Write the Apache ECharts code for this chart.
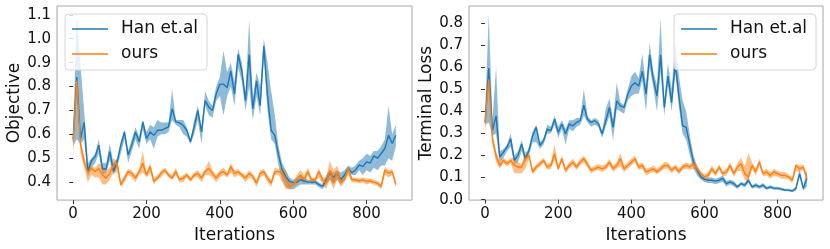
<!DOCTYPE html>
<html><head><meta charset="utf-8">
<script src="https://cdn.jsdelivr.net/npm/echarts@6/dist/echarts.min.js"></script>
<style>html,body{margin:0;padding:0;background:#fff}#c{width:830px;height:249px}</style>
</head><body><div id="c"></div>
<script>
var iterations = [0,10,20,30,40,50,60,70,80,90,100,110,120,130,140,150,160,170,180,190,200,210,220,230,240,250,260,270,280,290,300,310,320,330,340,350,360,370,380,390,400,410,420,430,440,450,460,470,480,490,500,510,520,530,540,550,560,570,580,590,600,610,620,630,640,650,660,670,680,690,700,710,720,730,740,750,760,770,780,790,800,810,820,830,840,850,860,870,880];
var seriesNames = ['Han et.al', 'ours'];
var xTicks = [0,200,400,600,800];
var objTicks = [0.4,0.5,0.6,0.7,0.8,0.9,1.0,1.1];
var lossTicks = [0.0,0.1,0.2,0.3,0.4,0.5,0.6,0.7,0.8];

// Left panel: Objective
var hanObjMean = [0.58,0.84,0.58,0.65,0.445,0.49,0.507,0.555,0.455,0.455,0.528,0.445,0.485,0.555,0.61,0.514,0.555,0.61,0.569,0.652,0.582,0.61,0.596,0.617,0.617,0.624,0.631,0.707,0.652,0.648,0.637,0.617,0.569,0.631,0.70,0.61,0.741,0.714,0.70,0.769,0.81,0.81,0.796,0.865,0.769,0.934,0.865,0.741,0.934,0.707,0.824,0.72,0.969,0.762,0.617,0.596,0.514,0.451,0.423,0.403,0.398,0.40,0.41,0.405,0.40,0.40,0.40,0.39,0.382,0.41,0.437,0.42,0.437,0.41,0.43,0.458,0.44,0.45,0.472,0.465,0.485,0.48,0.51,0.50,0.52,0.541,0.596,0.562,0.596];
var hanObjLo = [0.55,0.58,0.56,0.58,0.42,0.46,0.48,0.52,0.43,0.44,0.49,0.43,0.46,0.52,0.58,0.48,0.53,0.58,0.54,0.62,0.56,0.58,0.54,0.59,0.60,0.60,0.61,0.66,0.64,0.63,0.60,0.59,0.56,0.60,0.66,0.56,0.72,0.68,0.67,0.74,0.76,0.68,0.76,0.80,0.72,0.88,0.82,0.70,0.80,0.66,0.76,0.68,0.92,0.70,0.58,0.56,0.47,0.41,0.38,0.37,0.37,0.38,0.39,0.39,0.39,0.39,0.39,0.38,0.37,0.39,0.41,0.39,0.41,0.39,0.41,0.44,0.43,0.43,0.45,0.43,0.45,0.44,0.46,0.45,0.47,0.47,0.50,0.49,0.55];
var hanObjHi = [0.62,1.10,0.89,0.70,0.48,0.50,0.52,0.58,0.48,0.48,0.56,0.48,0.50,0.57,0.62,0.53,0.58,0.63,0.59,0.66,0.61,0.64,0.63,0.66,0.65,0.65,0.65,0.79,0.66,0.66,0.66,0.63,0.58,0.66,0.72,0.63,0.78,0.74,0.72,0.80,0.84,0.95,0.86,0.90,0.82,0.96,0.90,0.77,1.08,0.75,0.86,0.80,1.00,0.90,0.78,0.68,0.55,0.48,0.45,0.42,0.41,0.42,0.43,0.42,0.41,0.41,0.41,0.40,0.39,0.43,0.45,0.44,0.45,0.44,0.45,0.47,0.46,0.47,0.49,0.50,0.52,0.51,0.53,0.53,0.55,0.58,0.72,0.60,0.64];
var oursObjMean = [0.57,0.824,0.56,0.486,0.44,0.458,0.445,0.458,0.43,0.417,0.437,0.472,0.48,0.389,0.417,0.445,0.437,0.417,0.445,0.479,0.43,0.465,0.403,0.417,0.437,0.451,0.43,0.417,0.445,0.41,0.417,0.43,0.41,0.43,0.437,0.417,0.444,0.458,0.437,0.417,0.437,0.444,0.43,0.465,0.437,0.444,0.43,0.417,0.437,0.424,0.396,0.437,0.444,0.417,0.396,0.444,0.444,0.437,0.41,0.382,0.389,0.41,0.43,0.41,0.444,0.41,0.41,0.444,0.41,0.396,0.45,0.40,0.444,0.40,0.41,0.458,0.41,0.41,0.405,0.41,0.403,0.405,0.40,0.395,0.382,0.451,0.437,0.444,0.39];
var oursObjLo = [0.51,0.80,0.52,0.46,0.40,0.43,0.42,0.42,0.39,0.39,0.41,0.44,0.44,0.38,0.40,0.43,0.42,0.40,0.43,0.44,0.42,0.44,0.39,0.41,0.42,0.44,0.42,0.41,0.43,0.40,0.40,0.42,0.40,0.42,0.42,0.40,0.43,0.43,0.42,0.40,0.42,0.43,0.42,0.44,0.42,0.43,0.42,0.40,0.42,0.41,0.38,0.42,0.43,0.40,0.38,0.43,0.43,0.40,0.37,0.37,0.38,0.39,0.41,0.39,0.43,0.39,0.40,0.42,0.39,0.37,0.41,0.37,0.41,0.38,0.40,0.43,0.40,0.40,0.395,0.40,0.39,0.395,0.39,0.385,0.37,0.43,0.42,0.43,0.38];
var oursObjHi = [0.60,0.84,0.58,0.51,0.46,0.47,0.46,0.48,0.47,0.45,0.46,0.50,0.49,0.40,0.43,0.455,0.45,0.43,0.455,0.53,0.44,0.48,0.415,0.43,0.45,0.46,0.44,0.43,0.46,0.42,0.43,0.44,0.42,0.44,0.45,0.43,0.455,0.49,0.45,0.43,0.45,0.46,0.44,0.48,0.45,0.455,0.44,0.43,0.45,0.435,0.41,0.45,0.455,0.43,0.41,0.46,0.455,0.46,0.45,0.40,0.40,0.43,0.45,0.43,0.46,0.42,0.42,0.46,0.42,0.42,0.49,0.45,0.47,0.42,0.42,0.47,0.42,0.42,0.415,0.42,0.415,0.415,0.41,0.405,0.395,0.465,0.45,0.455,0.40];

// Right panel: Terminal Loss
var hanLossMean = [0.35,0.597,0.313,0.38,0.193,0.215,0.238,0.276,0.178,0.20,0.253,0.186,0.223,0.29,0.328,0.246,0.268,0.32,0.313,0.365,0.305,0.343,0.298,0.343,0.335,0.35,0.358,0.428,0.365,0.35,0.358,0.343,0.298,0.358,0.418,0.328,0.448,0.425,0.418,0.478,0.515,0.53,0.515,0.583,0.478,0.657,0.545,0.47,0.657,0.418,0.56,0.44,0.62,0.47,0.335,0.328,0.246,0.17,0.133,0.103,0.092,0.088,0.088,0.084,0.088,0.096,0.073,0.081,0.073,0.058,0.073,0.066,0.088,0.058,0.066,0.058,0.066,0.051,0.058,0.051,0.051,0.048,0.043,0.043,0.039,0.051,0.118,0.051,0.096];
var hanLossLo = [0.34,0.35,0.29,0.30,0.17,0.19,0.22,0.24,0.16,0.17,0.22,0.17,0.20,0.26,0.26,0.23,0.25,0.30,0.30,0.34,0.28,0.32,0.25,0.32,0.31,0.33,0.34,0.38,0.35,0.33,0.34,0.33,0.28,0.33,0.38,0.27,0.41,0.40,0.39,0.45,0.47,0.48,0.48,0.54,0.40,0.60,0.51,0.40,0.58,0.38,0.52,0.40,0.57,0.42,0.30,0.27,0.20,0.14,0.11,0.09,0.08,0.075,0.075,0.07,0.075,0.08,0.06,0.07,0.06,0.05,0.065,0.055,0.075,0.05,0.055,0.05,0.055,0.045,0.05,0.045,0.045,0.042,0.038,0.038,0.034,0.04,0.10,0.04,0.06];
var hanLossHi = [0.39,0.84,0.36,0.60,0.22,0.23,0.25,0.30,0.20,0.22,0.27,0.20,0.24,0.31,0.34,0.26,0.28,0.34,0.33,0.38,0.33,0.36,0.32,0.36,0.36,0.37,0.37,0.50,0.38,0.36,0.37,0.36,0.31,0.41,0.46,0.36,0.53,0.44,0.43,0.50,0.56,0.58,0.55,0.66,0.52,0.71,0.58,0.52,0.82,0.45,0.62,0.50,0.71,0.56,0.45,0.40,0.29,0.20,0.15,0.12,0.10,0.10,0.10,0.095,0.10,0.11,0.085,0.09,0.085,0.065,0.08,0.075,0.10,0.065,0.075,0.065,0.075,0.058,0.065,0.058,0.058,0.055,0.05,0.05,0.045,0.06,0.14,0.06,0.14];
var oursLossMean = [0.35,0.545,0.276,0.20,0.155,0.178,0.163,0.178,0.155,0.148,0.148,0.186,0.20,0.126,0.148,0.163,0.178,0.148,0.155,0.208,0.14,0.186,0.133,0.155,0.17,0.148,0.17,0.186,0.16,0.133,0.14,0.148,0.14,0.148,0.17,0.14,0.155,0.186,0.14,0.155,0.17,0.186,0.148,0.155,0.126,0.133,0.14,0.126,0.14,0.155,0.155,0.133,0.148,0.126,0.148,0.155,0.148,0.163,0.14,0.118,0.103,0.11,0.14,0.118,0.148,0.118,0.126,0.155,0.118,0.148,0.163,0.118,0.103,0.155,0.126,0.17,0.118,0.126,0.11,0.126,0.118,0.11,0.11,0.103,0.088,0.155,0.14,0.148,0.096];
var oursLossLo = [0.30,0.52,0.25,0.17,0.14,0.165,0.15,0.165,0.12,0.12,0.12,0.14,0.185,0.115,0.135,0.15,0.165,0.135,0.14,0.18,0.13,0.17,0.12,0.14,0.155,0.135,0.155,0.17,0.145,0.12,0.13,0.135,0.125,0.135,0.155,0.125,0.14,0.15,0.125,0.14,0.155,0.17,0.135,0.14,0.11,0.12,0.125,0.115,0.125,0.14,0.14,0.12,0.135,0.115,0.135,0.14,0.135,0.14,0.125,0.105,0.09,0.095,0.125,0.105,0.135,0.105,0.11,0.14,0.105,0.13,0.13,0.09,0.08,0.14,0.11,0.155,0.105,0.11,0.095,0.11,0.105,0.095,0.095,0.09,0.075,0.13,0.125,0.135,0.085];
var oursLossHi = [0.37,0.56,0.30,0.22,0.18,0.19,0.175,0.19,0.19,0.17,0.16,0.22,0.215,0.14,0.16,0.175,0.19,0.16,0.17,0.25,0.155,0.20,0.145,0.17,0.185,0.16,0.185,0.20,0.175,0.145,0.155,0.16,0.155,0.16,0.185,0.155,0.17,0.21,0.155,0.17,0.185,0.20,0.16,0.17,0.14,0.145,0.155,0.14,0.155,0.17,0.17,0.145,0.16,0.14,0.16,0.17,0.16,0.18,0.155,0.13,0.115,0.125,0.155,0.13,0.16,0.13,0.14,0.17,0.13,0.165,0.19,0.15,0.21,0.17,0.14,0.185,0.13,0.14,0.125,0.14,0.13,0.125,0.125,0.115,0.10,0.165,0.155,0.16,0.11];

var BLUE = '#1f77b4', ORANGE = '#ff7f0e';
var FONT = 'DejaVu Sans';

function pairs(ys) { return iterations.map(function (x, i) { return [x, ys[i]]; }); }

// Confidence band drawn as one polygon via the axis scales (api.coord)
function band(gi, lo, hi, color) {
  var data = iterations.map(function (x, i) { return [x, lo[i], hi[i]]; });
  return {
    type: 'custom', xAxisIndex: gi, yAxisIndex: gi, data: data, silent: true, z: 1,
    encode: { x: 0, y: [1, 2] },
    renderItem: function (params, api) {
      if (params.dataIndex !== 0) return null;
      var pts = [];
      for (var i = 0; i < data.length; i++) pts.push(api.coord([data[i][0], data[i][2]]));
      for (var j = data.length - 1; j >= 0; j--) pts.push(api.coord([data[j][0], data[j][1]]));
      return { type: 'polygon', shape: { points: pts },
        clipPath: { type: 'rect', shape: { x: params.coordSys.x, y: params.coordSys.y, width: params.coordSys.width, height: params.coordSys.height } },
        style: { fill: color, opacity: 0.5 } };
    }
  };
}
function mainLine(name, gi, ys, color) {
  return { name: name, type: 'line', xAxisIndex: gi, yAxisIndex: gi, data: pairs(ys), symbol: 'none',
    itemStyle: { color: color }, lineStyle: { color: color, width: 1.4 }, z: 2 };
}

function xAxis(gi) {
  return { gridIndex: gi, type: 'value', min: -44, max: 924,
    name: 'Iterations', nameLocation: 'middle', nameGap: 22,
    nameTextStyle: { fontFamily: FONT, fontSize: 17, color: '#111' },
    axisLine: { show: false }, splitLine: { show: false },
    axisTick: { show: true, length: 4, customValues: xTicks, lineStyle: { color: '#333' } },
    axisLabel: { customValues: xTicks, margin: 7, fontFamily: FONT, fontSize: 15, color: '#111' } };
}
function yAxis(gi, name, mn, mx, ticks) {
  return { gridIndex: gi, type: 'value', min: mn, max: mx,
    name: name, nameLocation: 'middle', nameGap: 34,
    nameTextStyle: { fontFamily: FONT, fontSize: 17, color: '#111' },
    axisLine: { show: false }, splitLine: { show: false },
    axisTick: { show: true, length: 4, customValues: ticks, lineStyle: { color: '#333' } },
    axisLabel: { customValues: ticks, margin: 6, fontFamily: FONT, fontSize: 15, color: '#111',
      formatter: function (v) { return v.toFixed(1); } } };
}
function legend(left) {
  return { left: left, top: 14, orient: 'vertical', data: seriesNames,
    icon: 'rect', itemWidth: 36, itemHeight: 1.6, itemGap: 5,
    backgroundColor: 'rgba(255,255,255,0.8)', borderColor: '#d6d6d6', borderWidth: 1, borderRadius: 4,
    padding: [5, 9, 6, 7], selectedMode: false,
    textStyle: { fontFamily: FONT, fontSize: 17, color: '#111', lineHeight: 20, padding: [0, 0, 0, 8] } };
}

var series = [
  band(0, hanObjLo, hanObjHi, BLUE), mainLine(seriesNames[0], 0, hanObjMean, BLUE),
  band(0, oursObjLo, oursObjHi, ORANGE), mainLine(seriesNames[1], 0, oursObjMean, ORANGE),
  band(1, hanLossLo, hanLossHi, BLUE), mainLine(seriesNames[0], 1, hanLossMean, BLUE),
  band(1, oursLossLo, oursLossHi, ORANGE), mainLine(seriesNames[1], 1, oursLossMean, ORANGE)
];

var chart = echarts.init(document.getElementById('c'), null, { renderer: 'canvas' });
chart.setOption({
  animation: false,
  backgroundColor: '#fff',
  textStyle: { fontFamily: FONT },
  grid: [
    { left: 57, top: 6, width: 355, height: 196, show: true, borderColor: '#a6a6a6', borderWidth: 1 },
    { left: 469, top: 6, width: 354, height: 196, show: true, borderColor: '#a6a6a6', borderWidth: 1 }
  ],
  xAxis: [xAxis(0), xAxis(1)],
  yAxis: [yAxis(0, 'Objective', 0.325, 1.137, objTicks), yAxis(1, 'Terminal Loss', -0.002, 0.878, lossTicks)],
  legend: [legend(65), legend(674)],
  series: series
});
</script>
</body></html>
